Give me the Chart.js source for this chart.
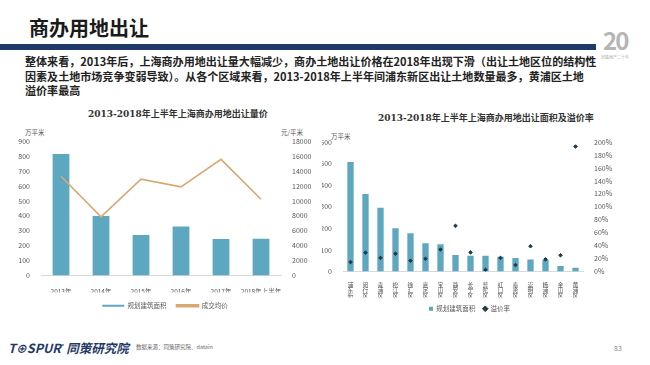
<!DOCTYPE html>
<html>
<head>
<meta charset="utf-8">
<script src="https://cdn.jsdelivr.net/npm/chart.js@4.4.0/dist/chart.umd.min.js"></script>
<style>
  body { margin: 0; width: 650px; height: 365px; background: #fff; position: relative; overflow: hidden;
    font-family: "Noto Sans CJK SC", "Noto Sans", sans-serif; }
  .abs { position: absolute; white-space: nowrap; }
  #title { left: 29px; top: 13px; font-size: 20px; font-weight: bold; color: #1a1a1a; }
  #rule { left: 0; top: 44px; width: 596px; height: 6px; background: #1f3a68; }
  #para { left: 25px; top: 54px; font-size: 11.05px; font-weight: bold; color: #222; line-height: 14.5px; }
  #logo { left: 603px; top: 22px; font-size: 24px; font-weight: bold; color: #b5b5b5; letter-spacing: -2px; }
  #logoSub { left: 601px; top: 54px; font-size: 4px; color: #aaa; }
  .ctitle { font-size: 9px; font-weight: bold; color: #333; font-family: "DejaVu Serif", "Noto Sans CJK SC", serif; }
  .unit { font-size: 6.5px; color: #555; }
  #footer { left: 8px; top: 338px; font-size: 12.5px; font-weight: bold; font-style: italic; color: #1f3a68; }
  #src { left: 136px; top: 343px; font-size: 5.5px; color: #666; }
  #page { left: 614px; top: 343px; font-size: 7px; color: #888; }
  canvas { position: absolute; }
</style>
</head>
<body>
<div class="abs" id="title">商办用地出让</div>
<div class="abs" id="rule"></div>
<div class="abs" id="para">整体来看，2013年后，上海商办用地出让量大幅减少，商办土地出让价格在2018年出现下滑（出让土地区位的结构性<br>因素及土地市场竞争变弱导致）。从各个区域来看，2013-2018年上半年间浦东新区出让土地数量最多，黄浦区土地<br>溢价率最高</div>
<div class="abs" id="logo">20</div>
<div class="abs" id="logoSub">同策地产二十年</div>

<div class="abs ctitle" style="left:88px; top:107px;">2013-2018年上半年上海商办用地出让量价</div>
<div class="abs unit" style="left:25px; top:127px;">万平米</div>
<div class="abs unit" style="left:281px; top:127px;">元/平米</div>
<div class="abs ctitle" style="left:378px; top:111px;">2013-2018年上半年上海商办用地出让面积及溢价率</div>
<div class="abs unit" style="left:331px; top:131px;">万平米</div>

<canvas id="left" width="310" height="185" style="left:10px; top:134px;"></canvas>
<canvas id="right" width="295" height="188" style="left:322px; top:134px;"></canvas>

<div class="abs" id="footer">T<span style="font-size:11px">⊕</span>SPUR<sup style="font-size:5px">®</sup> 同策研究院</div>
<div class="abs" id="src">数据来源：同策研究院、datain</div>
<div class="abs" id="page">83</div>

<script>
const years = ["2013年", "2014年", "2015年", "2016年", "2017年", "2018年上半年"];
const area = [814, 398, 271, 329, 244, 246];
const price = [13300, 7870, 12910, 11890, 15560, 10220];

const districts = ["浦东新区", "闵行区", "青浦区", "松江区", "徐汇区", "嘉定区", "宝山区", "静安区",
  "长宁区", "普陀区", "虹口区", "奉贤区", "崇明区", "杨浦区", "金山区", "黄浦区"];
const districtArea = [507, 359, 295, 200, 177, 131, 126, 76, 73, 73, 68, 62, 56, 54, 26, 17];
const premium = [14.5, 29, 21, 27.5, 16.6, 19.7, 34, 70.5, 29.5, 2.6, 21, 10, 39, 18.7, 25, 193];

const barColor = "#5ea7c0";
const lineColor = "#d7a872";
const tickColor = "#595959";

Chart.defaults.font.family = "'Noto Sans CJK SC', 'Noto Sans', sans-serif";
Chart.defaults.font.size = 7;
Chart.defaults.color = tickColor;
Chart.defaults.animation = false;

const fixW = w => s => { s.width = w; };
const fixH = h => s => { s.height = h; };
const byIndex = (a, b) => a.datasetIndex - b.datasetIndex;

new Chart(document.getElementById("left"), {
  data: {
    labels: years,
    datasets: [
      { type: "bar", label: "规划建筑面积", data: area, backgroundColor: barColor, yAxisID: "y",
        barPercentage: 0.42, categoryPercentage: 1, order: 2 },
      { type: "line", label: "成交均价", data: price, borderColor: lineColor, backgroundColor: lineColor,
        borderWidth: 1.6, pointRadius: 0, yAxisID: "y1", order: 1 }
    ]
  },
  options: {
    responsive: false,
    layout: { padding: { top: 5, left: 0, right: 0, bottom: 0 } },
    plugins: {
      legend: { position: "bottom", labels: { boxWidth: 22, boxHeight: 2, padding: 10, sort: byIndex, font: { size: 6.5 } } },
      tooltip: { enabled: false }
    },
    scales: {
      x: { grid: { display: false }, border: { color: "#d9d9d9" },
        ticks: { maxRotation: 0, autoSkip: false, padding: 4, font: { size: 6.5 } }, afterFit: fixH(17) },
      y: { min: 0, max: 900, ticks: { stepSize: 100 }, grid: { display: false }, border: { display: false }, afterFit: fixW(31) },
      y1: { position: "right", min: 0, max: 18000, ticks: { stepSize: 2000, callback: v => String(v) },
        grid: { display: false }, border: { display: false }, afterFit: fixW(39) }
    }
  }
});

new Chart(document.getElementById("right"), {
  data: {
    labels: districts.map(d => d.split("")),
    datasets: [
      { type: "bar", label: "规划建筑面积", data: districtArea, backgroundColor: barColor, yAxisID: "y",
        barPercentage: 0.42, categoryPercentage: 1, pointStyle: "rect", order: 2 },
      { type: "line", label: "溢价率", data: premium, showLine: false, yAxisID: "y1", pointStyle: "rectRot",
        pointRadius: 1.8, backgroundColor: "#1e3b4a", borderColor: "#1e3b4a", order: 1 }
    ]
  },
  options: {
    responsive: false,
    layout: { padding: { top: 8, left: 0, right: 0, bottom: 0 } },
    plugins: {
      legend: { position: "bottom", labels: { usePointStyle: true, boxWidth: 4, boxHeight: 4, padding: 8, sort: byIndex, font: { size: 6.5 } } },
      tooltip: { enabled: false }
    },
    scales: {
      x: { grid: { display: false }, border: { color: "#d9d9d9" },
        ticks: { maxRotation: 0, autoSkip: false, padding: 2, font: { size: 5.8, lineHeight: 1.0 } }, afterFit: fixH(26) },
      y: { min: 0, max: 600, ticks: { stepSize: 100 }, grid: { display: false }, border: { display: false }, afterFit: fixW(21) },
      y1: { position: "right", min: 0, max: 200, ticks: { stepSize: 20, callback: v => v + "%" },
        grid: { display: false }, border: { display: false }, afterFit: fixW(34) }
    }
  }
});
</script>
</body>
</html>
